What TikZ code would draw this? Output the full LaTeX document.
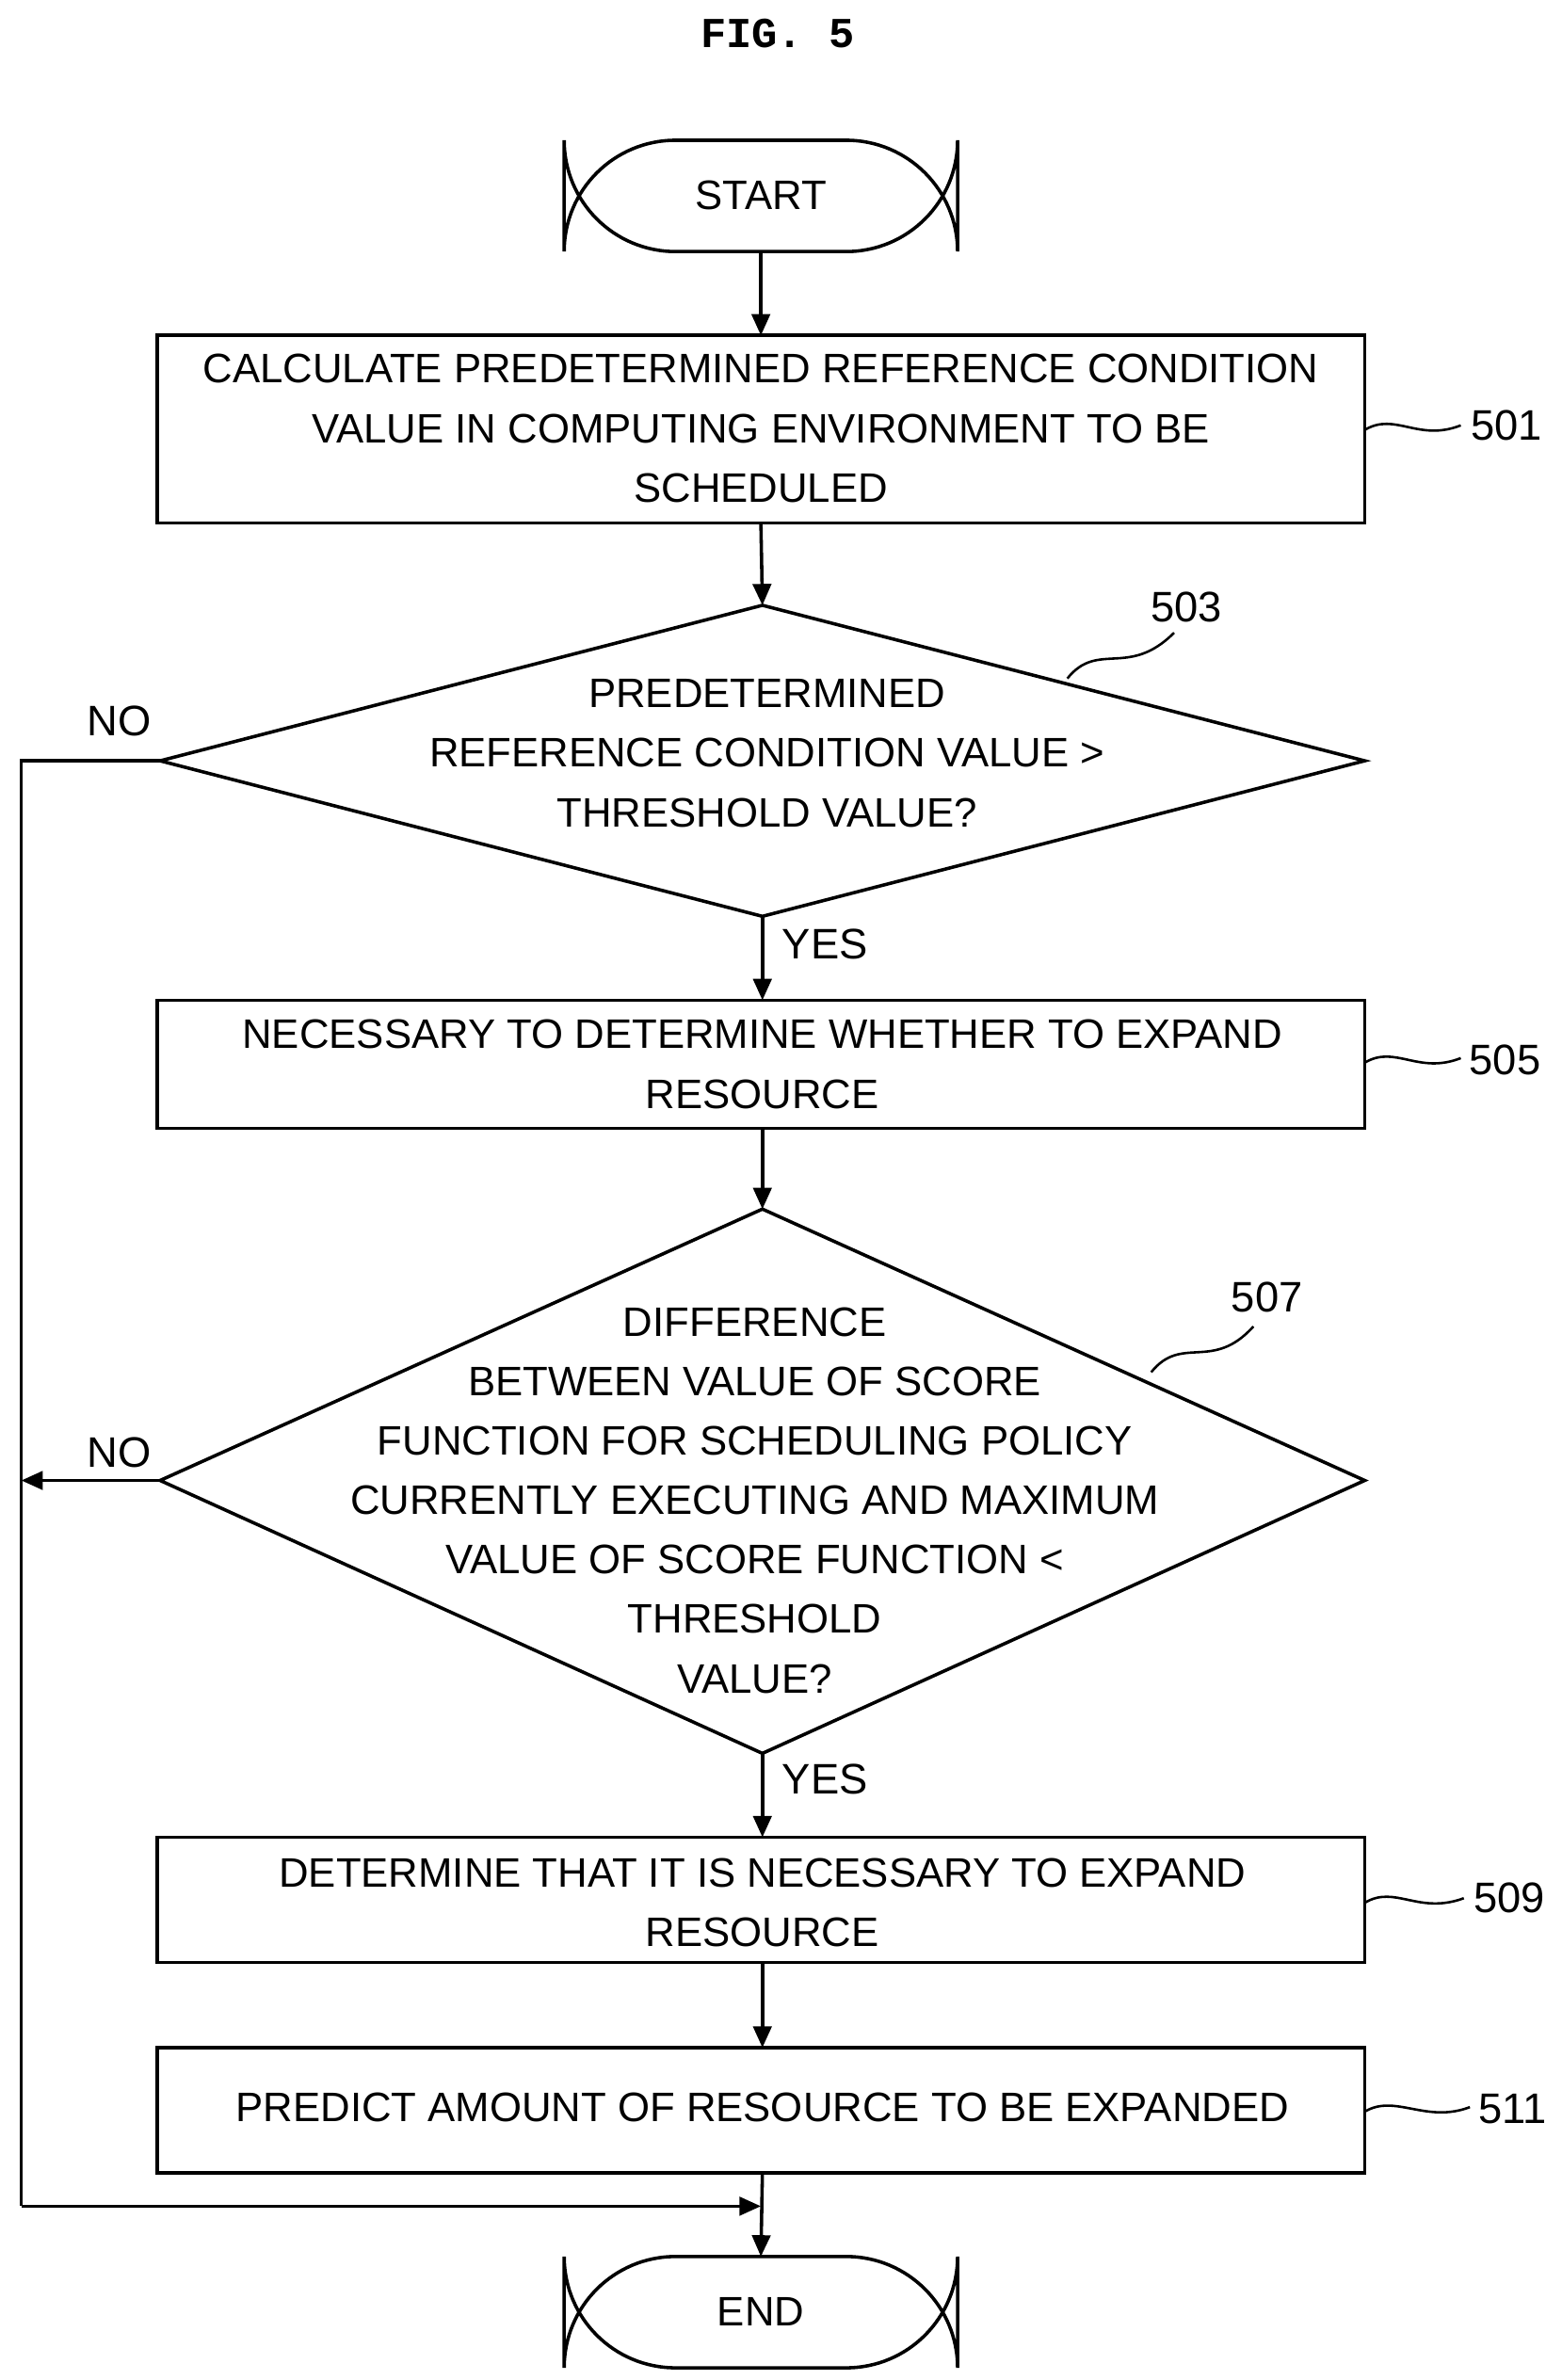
\documentclass[tikz,border=0pt]{standalone}
\usepackage{fontspec}
\setmainfont{Liberation Sans}
\newfontfamily\monof{Liberation Mono}
\usetikzlibrary{shapes.geometric,arrows.meta}
\begin{document}
\begin{tikzpicture}[x=0.5pt,y=-0.5pt,line width=1.1pt,
 txt/.style={font=\fontsize{13.5}{19.5}\selectfont,align=center},
 arr/.style={-{Triangle[length=7pt,width=6pt]}},
 lbl/.style={font=\fontsize{14}{16}\selectfont}]
\useasboundingbox (0,0) rectangle (1024,1561);
\node[font=\monof\bfseries\fontsize{14}{16}\selectfont] (title) at (510,22) {FIG. 5};
% shapes
\draw[rounded corners=36.5] (370,92) rectangle (628,165);
\node[txt] (start) at (499,128) {START};
\coordinate (startb) at (499,165);
\draw (103,220) rectangle (895,343);
\node[txt] (b501) at (499,281) {CALCULATE PREDETERMINED REFERENCE CONDITION\\VALUE IN COMPUTING ENVIRONMENT TO BE\\SCHEDULED};
\coordinate (b501t) at (499,220); \coordinate (b501b) at (499,343);
\draw (105,499) -- (500,397) -- (895,499) -- (500,601) -- cycle;
\node[txt] (d503) at (503,494) {PREDETERMINED\\REFERENCE CONDITION VALUE >\\THRESHOLD VALUE?};
\coordinate (d503t) at (500,397); \coordinate (d503b) at (500,601); \coordinate (d503l) at (105,499);
\draw (103,656) rectangle (895,740);
\node[txt] (b505) at (500,698) {NECESSARY TO DETERMINE WHETHER TO EXPAND\\RESOURCE};
\coordinate (b505t) at (500,656); \coordinate (b505b) at (500,740);
\draw (105,971) -- (500,793) -- (895,971) -- (500,1150) -- cycle;
\node[txt] (d507) at (495,984) {DIFFERENCE\\BETWEEN VALUE OF SCORE\\FUNCTION FOR SCHEDULING POLICY\\CURRENTLY EXECUTING AND MAXIMUM\\VALUE OF SCORE FUNCTION <\\THRESHOLD\\VALUE?};
\coordinate (d507t) at (500,793); \coordinate (d507b) at (500,1150); \coordinate (d507l) at (105,971);
\draw (103,1205) rectangle (895,1287);
\node[txt] (b509) at (500,1248) {DETERMINE THAT IT IS NECESSARY TO EXPAND\\RESOURCE};
\coordinate (b509t) at (500,1205); \coordinate (b509b) at (500,1287);
\draw (103,1343) rectangle (895,1425);
\node[txt] (b511) at (500,1382) {PREDICT AMOUNT OF RESOURCE TO BE EXPANDED};
\coordinate (b511t) at (500,1343); \coordinate (b511b) at (500,1425);
\draw[rounded corners=36.5] (370,1480) rectangle (628,1553);
\node[txt] (end) at (499,1516) {END};
\coordinate (endt) at (499,1480);
% connectors
\draw[arr] (startb) -- (b501t);
\draw[arr] (b501b) -- (d503t);
\draw[arr] (d503b) -- (b505t);
\draw[arr] (b505b) -- (d507t);
\draw[arr] (d507b) -- (b509t);
\draw[arr] (b509b) -- (b511t);
\draw[arr] (b511b) -- (endt);
\coordinate (lt) at (14,499); \coordinate (lm) at (14,971); \coordinate (lb) at (14,1447); \coordinate (join) at (499,1447);
\draw (d503l) -- (lt) -- (lb);
\draw[arr] (d507l) -- (lm);
\draw[arr] (lb) -- (join);
% labels
\node[lbl] (no1) at (78,473) {NO};
\node[lbl] (no2) at (78,953) {NO};
\node[lbl] (yes1) at (541,619) {YES};
\node[lbl] (yes2) at (541,1167) {YES};
\node[lbl] (n501) at (988,279) {501};
\node[lbl] (n503) at (778,398) {503};
\node[lbl] (n505) at (987,695) {505};
\node[lbl] (n507) at (831,851) {507};
\node[lbl] (n509) at (990,1245) {509};
\node[lbl] (n511) at (992,1383) {511};
\begin{scope}[line width=0.8pt]
\draw (895,282) .. controls (915,270) and (930,290) .. (958,279);
\draw (700,445) .. controls (720,420) and (740,445) .. (770,415);
\draw (895,697) .. controls (915,685) and (930,705) .. (958,694);
\draw (755,900) .. controls (775,875) and (795,900) .. (822,870);
\draw (895,1248) .. controls (915,1236) and (930,1256) .. (960,1245);
\draw (895,1385) .. controls (915,1373) and (935,1393) .. (964,1382);
\end{scope}
\end{tikzpicture}
\end{document}
